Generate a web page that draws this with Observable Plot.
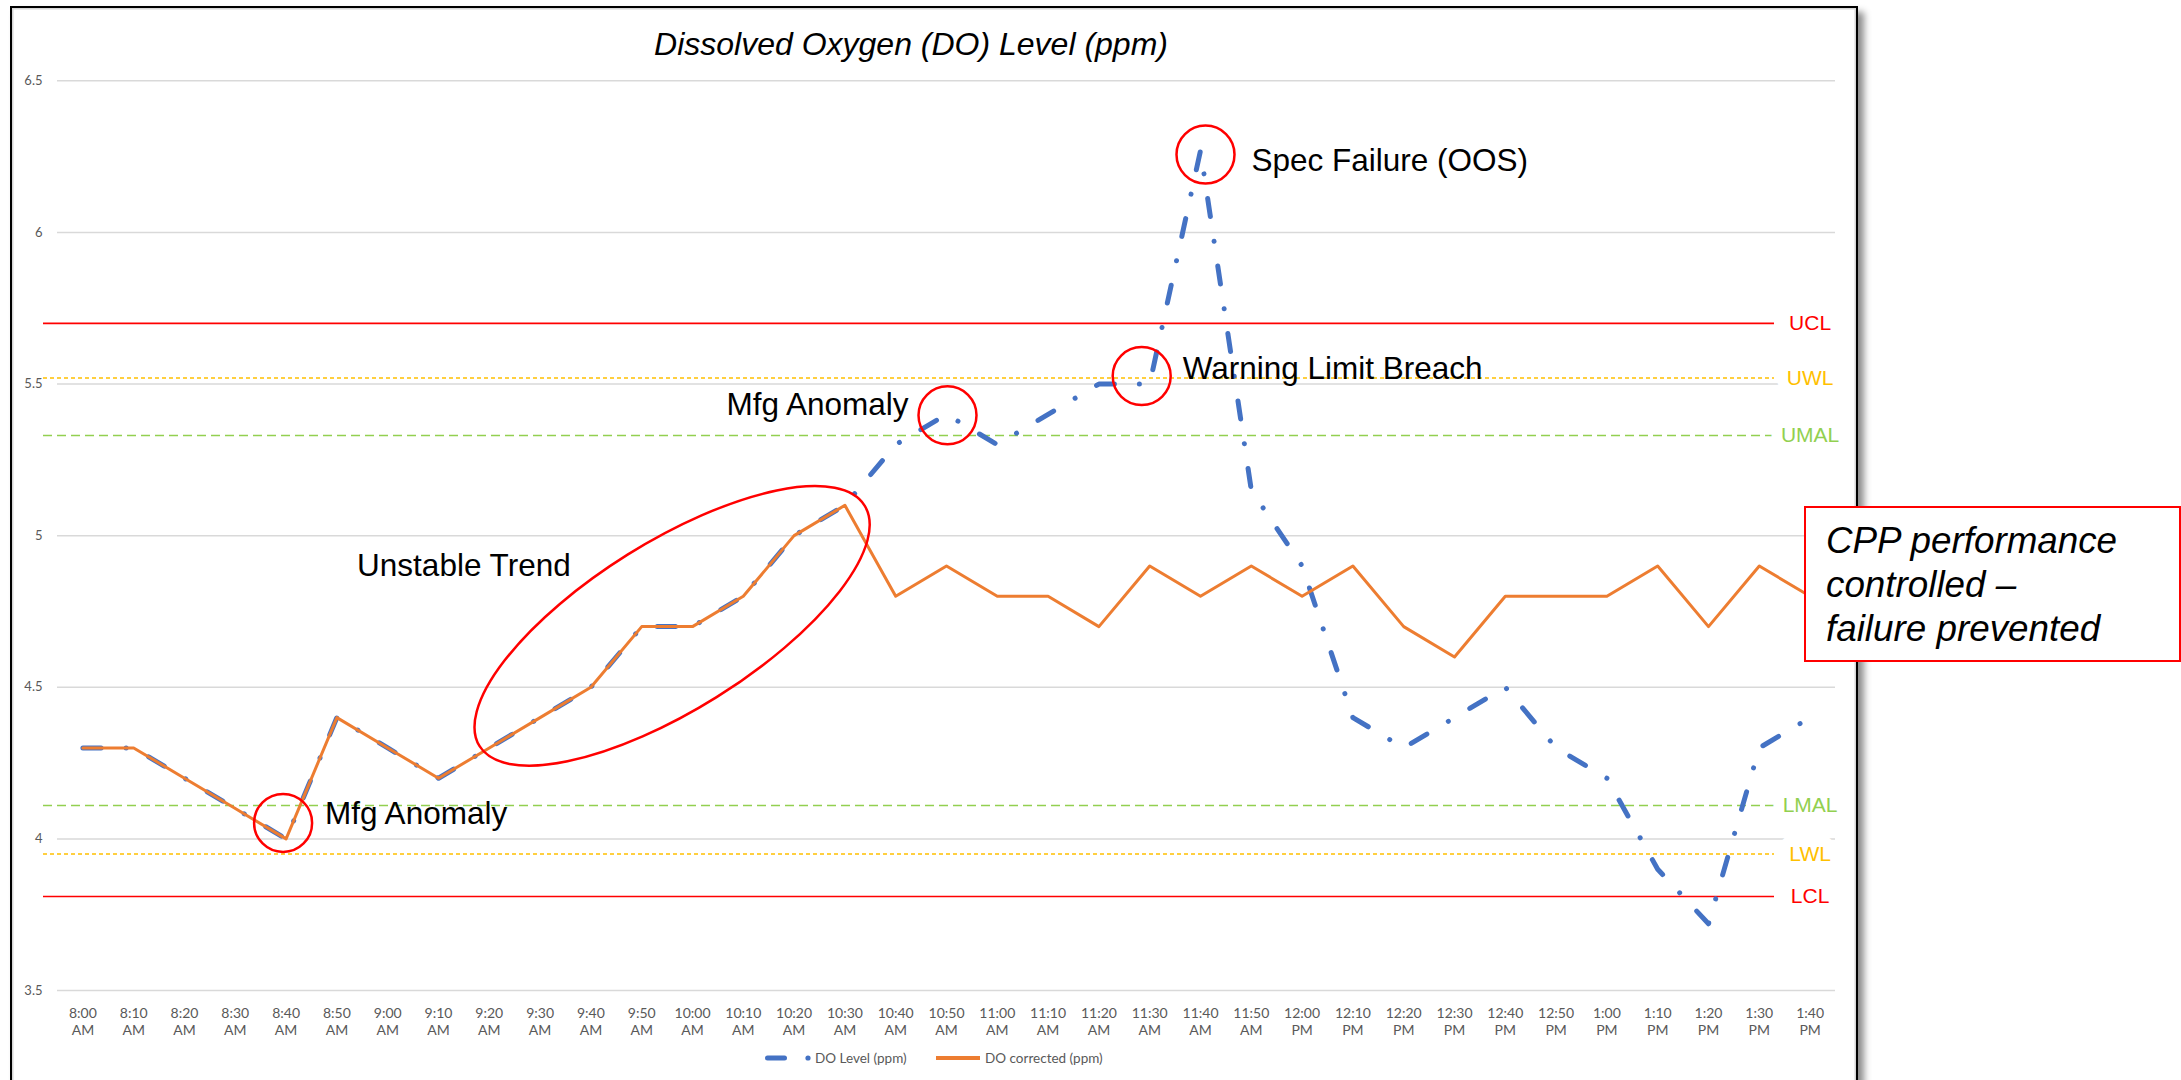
<!DOCTYPE html>
<html>
<head>
<meta charset="utf-8">
<script src="https://cdn.jsdelivr.net/npm/d3@7"></script>
<script src="https://cdn.jsdelivr.net/npm/@observablehq/plot@0.6"></script>
<style>
  html, body { margin: 0; padding: 0; background: #fff; overflow: hidden; width: 2181px; height: 1080px; }
  #wrap { position: relative; width: 2181px; height: 1080px; overflow: hidden; }
  #frame { position: absolute; left: 10px; top: 6px; width: 1848px; height: 1200px; box-sizing: border-box;
           border: 2.5px solid #000; background: #fff;
           box-shadow: inset 0 0 0 1.5px #d6d6d6, 6px 6px 7px rgba(0,0,0,0.45); }
  #title { position: absolute; left: 0; width: 1822px; top: 28px; text-align: center;
           font: italic 32px "Liberation Sans", Arial, sans-serif; line-height: 32px; color: #000; }
  #chart { position: absolute; left: 0; top: 0; }
  .leg { position: absolute; font: 13.5px Lato, sans-serif; color: #595959; line-height: 16px; white-space: nowrap; }
  .legsw { position: absolute; }
  #cpp { position: absolute; left: 1804px; top: 506px; width: 377px; height: 156px; box-sizing: border-box;
         border: 2px solid #f00; background: #fff; padding: 11px 0 0 20px;
         font: italic 36.8px "Liberation Sans", Arial, sans-serif; line-height: 44px; color: #000; white-space: nowrap; }
</style>
</head>
<body>
<div id="wrap">
  <div id="frame"></div>
  <div id="chart"></div>
  <div id="title">Dissolved Oxygen (DO) Level (ppm)</div>
  <svg class="legsw" style="left:760px;top:1050px" width="54" height="16">
    <line x1="7.5" y1="8" x2="24.5" y2="8" stroke="#4472C4" stroke-width="5" stroke-linecap="round"/>
    <circle cx="48" cy="8" r="2.6" fill="#4472C4"/>
  </svg>
  <div class="leg" style="left:815px;top:1050px">DO Level (ppm)</div>
  <svg class="legsw" style="left:934px;top:1050px" width="50" height="16">
    <line x1="2" y1="8" x2="46" y2="8" stroke="#ED7D31" stroke-width="4"/>
  </svg>
  <div class="leg" style="left:985px;top:1050px">DO corrected (ppm)</div>
  <div id="cpp">CPP performance<br>controlled –<br>failure prevented</div>
</div>
<script>
// ---------- data ----------
const times = [
  "8:00 AM","8:10 AM","8:20 AM","8:30 AM","8:40 AM","8:50 AM","9:00 AM","9:10 AM","9:20 AM","9:30 AM",
  "9:40 AM","9:50 AM","10:00 AM","10:10 AM","10:20 AM","10:30 AM","10:40 AM","10:50 AM","11:00 AM","11:10 AM",
  "11:20 AM","11:30 AM","11:40 AM","11:50 AM","12:00 PM","12:10 PM","12:20 PM","12:30 PM","12:40 PM","12:50 PM",
  "1:00 PM","1:10 PM","1:20 PM","1:30 PM","1:40 PM"
];
const doLevel = [
  4.3, 4.3, 4.2, 4.1, 4.0, 4.4, 4.3, 4.2, 4.3, 4.4,
  4.5, 4.7, 4.7, 4.8, 5.0, 5.1, 5.3, 5.4, 5.3, 5.4,
  5.5, 5.5, 6.27, 5.15, 4.9, 4.4, 4.3, 4.4, 4.5, 4.3,
  4.2, 3.9, 3.72, 4.3, 4.4
];
const doCorrected = [
  4.3, 4.3, 4.2, 4.1, 4.0, 4.4, 4.3, 4.2, 4.3, 4.4,
  4.5, 4.7, 4.7, 4.8, 5.0, 5.1, 4.8, 4.9, 4.8, 4.8,
  4.7, 4.9, 4.8, 4.9, 4.8, 4.9, 4.7, 4.6, 4.8, 4.8,
  4.8, 4.9, 4.7, 4.9, 4.8
];
const limitNames  = ["UCL", "UWL", "UMAL", "LMAL", "LWL", "LCL"];
const limitValues = [5.7, 5.52, 5.33, 4.11, 3.95, 3.81];
const yTicks = [3.5, 4, 4.5, 5, 5.5, 6, 6.5];
const annotationTimes  = ["8:40 AM", "10:50 AM", "11:30 AM", "11:40 AM"];
const annotationLabels = ["Mfg Anomaly", "Mfg Anomaly", "Warning Limit Breach", "Spec Failure (OOS)"];
const trendTimes = ["9:20 AM", "10:30 AM"];
const trendLabel = "Unstable Trend";

// ---------- tables built from the arrays ----------
const data = times.map((t, i) => ({i, time: t, level: doLevel[i], corrected: doCorrected[i]}));
const limits = limitNames.map((name, k) => ({name, value: limitValues[k]}));
const notes = annotationTimes.map((t, k) => ({...data.find(d => d.time === t), label: annotationLabels[k]}));
const t0 = times.indexOf(trendTimes[0]), t1 = times.indexOf(trendTimes[1]);
const trendPts = data.slice(t0, t1 + 1);
const trend = [{i: d3.mean(trendPts, d => d.i), level: d3.mean(trendPts, d => d.level), label: trendLabel}];

// ---------- styles ----------
const RED = "#FF0000", GOLD = "#FFC000", GREEN = "#92D050";
const limitColor = n => (n.endsWith("CL") ? RED : n.endsWith("WL") ? GOLD : GREEN);
const noteStyle = [
  {cdx: -3, cdy: -16, tdx: 39, tdy: -25, anchor: "start"},
  {cdx: 1,  cdy: 1,   tdx: -38, tdy: -9, anchor: "end"},
  {cdx: -8, cdy: -8,  tdx: 33, tdy: -15, anchor: "start"},
  {cdx: 5,  cdy: 4,   tdx: 51, tdy: 10,  anchor: "start"}
];
const ANNO_FONT = "Liberation Sans, Arial, sans-serif";

function ellipseMark(index, scales) {
  const cx = scales.x(trend[0].i) + 5.5;
  const cy = scales.y(trend[0].level) - 4;
  const el = document.createElementNS("http://www.w3.org/2000/svg", "ellipse");
  el.setAttribute("cx", cx);
  el.setAttribute("cy", cy);
  el.setAttribute("rx", 227);
  el.setAttribute("ry", 84);
  el.setAttribute("transform", `rotate(-32 ${cx} ${cy})`);
  el.setAttribute("fill", "none");
  el.setAttribute("stroke", RED);
  el.setAttribute("stroke-width", 2.5);
  return el;
}

const marks = [
  Plot.gridY(yTicks, {stroke: "#d9d9d9", strokeOpacity: 1, strokeWidth: 1.5}),
  Plot.axisY(yTicks, {label: null, tickSize: 0, tickPadding: 15, tickFormat: d => String(d), fontSize: 13, fill: "#595959", fontFamily: "Lato"}),
  Plot.axisX(d3.range(times.length), {label: null, tickSize: 0, tickPadding: 15, tickFormat: i => times[i].replace(" ", "\n"),
    fontSize: 14, lineHeight: 1.22, fill: "#595959", fontFamily: "Lato"}),
  // control / warning / alert limits
  Plot.ruleY(limits.filter(d => limitColor(d.name) === RED), {y: "value", stroke: RED, strokeWidth: 1.6, insetLeft: -14, insetRight: 61}),
  Plot.ruleY(limits.filter(d => limitColor(d.name) === GOLD), {y: "value", stroke: GOLD, strokeWidth: 1.6, strokeDasharray: "4 3", insetLeft: -14, insetRight: 61}),
  Plot.ruleY(limits.filter(d => limitColor(d.name) === GREEN), {y: "value", stroke: GREEN, strokeWidth: 1.5, strokeDasharray: "9 5", insetLeft: -14, insetRight: 61}),
  Plot.text(limits, {x: () => data[data.length - 1].i, y: "value", text: "name", fill: d => limitColor(d.name),
    stroke: "white", strokeWidth: 22, paintOrder: "stroke", strokeLinejoin: "round",
    fontSize: 21, fontFamily: ANNO_FONT, textAnchor: "middle", lineAnchor: "middle"}),
  // series
  Plot.line(data, {x: "i", y: "level", stroke: "#4472C4", strokeWidth: 5, strokeDasharray: "18.2 25 0.01 25",
    strokeLinecap: "round", strokeLinejoin: "round"}),
  Plot.line(data, {x: "i", y: "corrected", stroke: "#ED7D31", strokeWidth: 3, strokeLinejoin: "round"}),
  // annotations
  ellipseMark,
  Plot.text(trend, {x: "i", y: "level", text: "label", dx: -310, dy: -65, textAnchor: "start", lineAnchor: "middle",
    fontSize: 31.5, fontFamily: ANNO_FONT, fill: "#000"})
];
notes.forEach((n, k) => {
  const s = noteStyle[k];
  marks.push(Plot.dot([n], {x: "i", y: "level", r: 29, fill: "none", stroke: RED, strokeWidth: 2.5, dx: s.cdx, dy: s.cdy}));
  marks.push(Plot.text([n], {x: "i", y: "level", text: "label", dx: s.tdx, dy: s.tdy, textAnchor: s.anchor,
    lineAnchor: "middle", fontSize: 31.5, fontFamily: ANNO_FONT, fill: "#000"}));
});

const chart = Plot.plot({
  width: 1860,
  height: 1045,
  marginLeft: 57,
  marginRight: 25,
  marginTop: 80.3,
  marginBottom: 55,
  style: {background: "transparent", overflow: "visible", fontFamily: "Lato", color: "#595959"},
  x: {type: "linear", domain: [-0.5, times.length - 0.5], axis: null, label: null},
  y: {domain: [3.5, 6.5], axis: null, label: null},
  marks
});
document.getElementById("chart").appendChild(chart);
</script>
</body>
</html>
